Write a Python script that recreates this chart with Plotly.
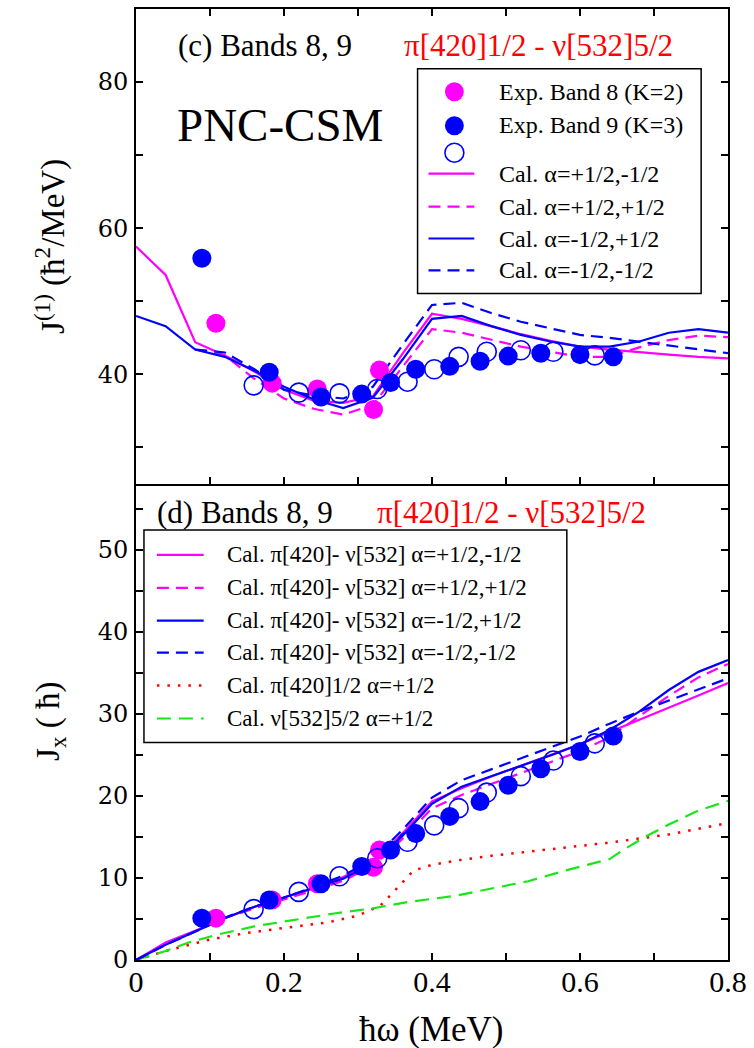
import plotly.graph_objects as go
from plotly.subplots import make_subplots

# ---------------- data ----------------
# rotational frequency grid of the PNC-CSM calculation (MeV)
omega_cal = [0.00, 0.04, 0.08, 0.12, 0.16, 0.20, 0.24, 0.28, 0.32, 0.36, 0.40,
             0.44, 0.48, 0.52, 0.56, 0.60, 0.64, 0.68, 0.72, 0.76, 0.80]

# kinematic moment of inertia J(1) (hbar^2/MeV), calculated
j1_pm = [57.5, 53.6, 44.4, 42.6, 40.4, 37.9, 36.4, 36.1, 37.0, 42.8, 48.3,
         47.6, 46.6, 45.5, 44.6, 43.8, 43.4, 43.0, 42.7, 42.4, 42.2]   # a=+1/2,-1/2
j1_mp = [48.0, 46.6, 43.4, 42.4, 40.5, 38.3, 36.6, 35.4, 36.8, 42.0, 47.6,
         48.0, 46.6, 45.4, 44.5, 43.8, 43.8, 44.5, 45.7, 46.2, 45.7]   # a=-1/2,+1/2
omega_cal_d = [0.08, 0.12, 0.16, 0.20, 0.24, 0.28, 0.32, 0.36, 0.40,
               0.44, 0.48, 0.52, 0.56, 0.60, 0.64, 0.68, 0.72, 0.76, 0.80]
j1_pp = [43.4, 42.6, 39.4, 36.7, 35.3, 34.5, 35.8, 41.0, 46.2,
         45.7, 44.7, 43.8, 43.1, 42.4, 42.4, 43.7, 44.7, 45.3, 45.1]   # a=+1/2,+1/2
j1_mm = [43.4, 43.0, 40.7, 37.9, 37.1, 36.7, 38.3, 44.0, 49.5,
         49.8, 48.4, 47.2, 46.3, 45.4, 45.0, 44.5, 43.9, 43.4, 42.9]   # a=-1/2,-1/2

# angular momentum alignment Jx (hbar), calculated
jx_pm = [0.00, 2.14, 3.55, 5.11, 6.46, 7.58, 8.74, 10.11, 11.84, 15.41, 19.32,
         20.94, 22.37, 23.66, 24.98, 26.28, 27.78, 29.24, 30.74, 32.22, 33.76]
jx_pp = [0.00, 1.86, 3.47, 5.11, 6.30, 7.34, 8.47, 9.66, 11.46, 14.76, 18.48,
         20.11, 21.46, 22.78, 24.14, 25.44, 27.14, 29.72, 32.18, 34.43, 36.08]
jx_mp = [0.00, 1.86, 3.47, 5.09, 6.48, 7.66, 8.78, 9.91, 11.78, 15.12, 19.04,
         21.12, 22.37, 23.61, 24.92, 26.28, 28.03, 30.26, 32.90, 35.11, 36.56]
jx_mm = [0.00, 1.86, 3.47, 5.16, 6.51, 7.58, 8.90, 10.28, 12.26, 15.84, 19.80,
         21.91, 23.23, 24.54, 25.93, 27.24, 28.80, 30.26, 31.61, 32.98, 34.32]

# single-particle contributions
omega_pi = [0.00, 0.04, 0.10, 0.15, 0.20, 0.26, 0.30, 0.33, 0.345, 0.36, 0.375, 0.40,
            0.44, 0.48, 0.53, 0.58, 0.64, 0.68, 0.72, 0.76, 0.80]
jx_pi = [0.0, 1.1, 2.5, 3.3, 3.9, 4.6, 5.4, 6.6, 8.0, 9.4, 10.9, 11.6,
         12.2, 12.7, 13.2, 13.7, 14.3, 14.8, 15.3, 16.0, 16.7]
omega_nu = [0.00, 0.04, 0.07, 0.11, 0.16, 0.22, 0.27, 0.32, 0.34, 0.37, 0.43, 0.48,
            0.53, 0.58, 0.64, 0.66, 0.69, 0.72, 0.76, 0.80]
jx_nu = [0.0, 1.1, 2.1, 3.1, 4.1, 5.0, 5.7, 6.3, 6.6, 7.1, 7.8, 8.7,
         9.6, 10.9, 12.3, 13.5, 15.1, 16.5, 18.2, 19.4]

# experimental values
omega_b8 = [0.108, 0.184, 0.245, 0.321, 0.329]
j1_b8 = [47.0, 38.8, 38.0, 35.2, 40.6]
jx_b8 = [5.1, 7.3, 9.3, 11.3, 13.4]

omega_b9 = [0.089, 0.180, 0.250, 0.305, 0.344, 0.378, 0.424, 0.465, 0.503, 0.547, 0.600, 0.645]
j1_b9 = [55.9, 40.3, 36.9, 37.3, 38.9, 40.7, 41.1, 41.8, 42.5, 42.9, 42.7, 42.4]
jx_b9 = [5.1, 7.3, 9.3, 11.4, 13.4, 15.4, 17.5, 19.3, 21.3, 23.3, 25.4, 27.3]

omega_b9o = [0.159, 0.220, 0.275, 0.326, 0.367, 0.403, 0.436, 0.474, 0.520, 0.564, 0.620]
j1_b9o = [38.5, 37.5, 37.4, 38.0, 39.0, 40.7, 42.4, 43.1, 43.3, 43.1, 42.6]
jx_b9o = [6.2, 8.3, 10.2, 12.4, 14.4, 16.4, 18.5, 20.4, 22.4, 24.3, 26.4]

# ---------------- style ----------------
MAG = "#ff00ff"
BLU = "#0000ff"
RED = "#ff0000"
GRN = "#19e619"
SERIF = "Liberation Serif"
DASH = "12px,7px"
LW = 2.2
MS = 19

W, H = 754, 1048
L, R, T, B = 136, 23, 7, 88
PW, PH = W - L - R, H - T - B


def px(xp):
    return (xp - L) / PW


def py(yp):
    return (H - B - yp) / PH


fig = make_subplots(rows=2, cols=1, shared_xaxes=False, vertical_spacing=0)


def line(x, y, color, dash, row, width=LW):
    fig.add_trace(go.Scatter(x=x, y=y, mode="lines",
                             line=dict(color=color, width=width, dash=dash),
                             showlegend=False, hoverinfo="skip"), row=row, col=1)


def pts(x, y, color, row, hollow=False):
    if hollow:
        marker = dict(symbol="circle-open", size=MS, color=color, line=dict(width=1.6, color=color))
    else:
        marker = dict(symbol="circle", size=MS, color=color, line=dict(width=0))
    fig.add_trace(go.Scatter(x=x, y=y, mode="markers", marker=marker,
                             showlegend=False, hoverinfo="skip"), row=row, col=1)


# panel (c): J(1)
line(omega_cal, j1_pm, MAG, "solid", 1)
line(omega_cal_d, j1_pp, MAG, DASH, 1)
line(omega_cal, j1_mp, BLU, "solid", 1)
line(omega_cal_d, j1_mm, BLU, DASH, 1)
pts(omega_b8, j1_b8, MAG, 1)
pts(omega_b9, j1_b9, BLU, 1)
pts(omega_b9o, j1_b9o, BLU, 1, hollow=True)

# panel (d): Jx
line(omega_pi, jx_pi, RED, "2.5px,8px", 2, width=2.5)
line(omega_nu, jx_nu, GRN, "14px,8px", 2)
line(omega_cal, jx_pm, MAG, "solid", 2)
line(omega_cal, jx_pp, MAG, DASH, 2)
line(omega_cal, jx_mp, BLU, "solid", 2)
line(omega_cal, jx_mm, BLU, DASH, 2)
pts(omega_b8, jx_b8, MAG, 2)
pts(omega_b9, jx_b9, BLU, 2)
pts(omega_b9o, jx_b9o, BLU, 2, hollow=True)

split = py(483)

axis_common = dict(showline=True, linecolor="black", linewidth=2, ticks="inside",
                   ticklen=7, tickwidth=1.5, tickcolor="black", showgrid=False,
                   zeroline=False)

fig.update_xaxes(range=[0, 0.8], dtick=0.2, tick0=0,
                 minor=dict(dtick=0.1, ticks="inside", ticklen=7, tickwidth=1.5, tickcolor="black"),
                 **axis_common)
fig.update_xaxes(showticklabels=False, mirror="allticks", row=1, col=1)
fig.update_xaxes(showticklabels=True, mirror=False, row=2, col=1,
                 tickfont=dict(family=SERIF, size=30, color="black"), ticklabelstandoff=-6)

fig.update_yaxes(tickfont=dict(family="DejaVu Serif", size=24, color="black"),
                 mirror="allticks", ticklabelstandoff=1, **axis_common)
fig.update_yaxes(range=[25, 90], dtick=20, tick0=0,
                 minor=dict(dtick=10, ticks="inside", ticklen=7, tickwidth=1.5, tickcolor="black"),
                 domain=[split, 1], row=1, col=1)
fig.update_yaxes(range=[0, 58], dtick=10, tick0=0,
                 minor=dict(dtick=5, ticks="inside", ticklen=7, tickwidth=1.5, tickcolor="black"),
                 domain=[0, split], row=2, col=1)

ann = []
shapes = []


def text(x, y, s, size, color="black", xanchor="left", angle=0, family=SERIF):
    ann.append(dict(x=px(x), y=py(y), xref="paper", yref="paper", text=s, showarrow=False,
                    xanchor=xanchor, yanchor="middle", textangle=angle,
                    font=dict(family=family, size=size, color=color)))


# panel labels
text(176, 44, "(c) Bands 8, 9", 31)
text(403, 44, "π[420]1/2 - ν[532]5/2", 31, RED)
text(175, 123, "PNC-CSM", 47)
text(155, 512, "(d) Bands 8, 9", 31)
text(376, 512, "π[420]1/2 - ν[532]5/2", 31, RED)

# axis titles
text(50, 245, "J<sup>(1)</sup> (ħ<sup>2</sup>/MeV)", 33, xanchor="center", angle=-90)
text(50, 721, "J<sub>x</sub> ( ħ)", 33, xanchor="center", angle=-90)
text(433, 1030, "ħω (MeV)", 35, xanchor="center")


def box(x0, y0, x1, y1):
    shapes.append(dict(type="rect", xref="paper", yref="paper", x0=px(x0), x1=px(x1),
                       y0=py(y1), y1=py(y0), line=dict(color="black", width=1.5),
                       fillcolor="white", layer="above"))


def key_line(x0, x1, y, color, dash, width=LW):
    shapes.append(dict(type="line", xref="paper", yref="paper", x0=px(x0), x1=px(x1),
                       y0=py(y), y1=py(y), line=dict(color=color, width=width, dash=dash),
                       layer="above"))


def key_dot(xc, yc, color, hollow=False):
    r = MS / 2
    shapes.append(dict(type="circle", xref="paper", yref="paper",
                       x0=px(xc - r), x1=px(xc + r), y0=py(yc + r), y1=py(yc - r),
                       fillcolor="rgba(0,0,0,0)" if hollow else color,
                       line=dict(color=color, width=1.6 if hollow else 0), layer="above"))


# key of panel (c)
box(419, 67, 704, 292)
key_dot(456, 90, MAG)
text(499, 90, "Exp. Band 8 (K=2)", 24)
key_dot(456, 124, BLU)
text(499, 123, "Exp. Band 9 (K=3)", 24)
key_dot(456, 151, BLU, hollow=True)
key_rows_c = [(172, MAG, "solid", "Cal. α=+1/2,-1/2"),
              (205, MAG, DASH, "Cal. α=+1/2,+1/2"),
              (237, BLU, "solid", "Cal. α=-1/2,+1/2"),
              (269, BLU, DASH, "Cal. α=-1/2,-1/2")]
for yy, c, d, s in key_rows_c:
    key_line(430, 476, yy, c, d)
    text(499, yy, s, 24)

# key of panel (d)
box(144, 529, 569, 742)
key_rows_d = [(554, MAG, "solid", "Cal. π[420]- ν[532] α=+1/2,-1/2", LW),
              (587, MAG, DASH, "Cal. π[420]- ν[532] α=+1/2,+1/2", LW),
              (620, BLU, "solid", "Cal. π[420]- ν[532] α=-1/2,+1/2", LW),
              (652, BLU, DASH, "Cal. π[420]- ν[532] α=-1/2,-1/2", LW),
              (685, RED, "2.5px,8px", "Cal. π[420]1/2 α=+1/2", 2.5),
              (718, GRN, "14px,8px", "Cal. ν[532]5/2 α=+1/2", LW)]
for yy, c, d, s, w in key_rows_d:
    key_line(157, 204, yy, c, d, w)
    text(225, yy, s, 23)

fig.update_layout(width=W, height=H, margin=dict(l=L, r=R, t=T, b=B),
                  plot_bgcolor="white", paper_bgcolor="white",
                  showlegend=False, annotations=ann, shapes=shapes)

fig.write_html("out.html")
